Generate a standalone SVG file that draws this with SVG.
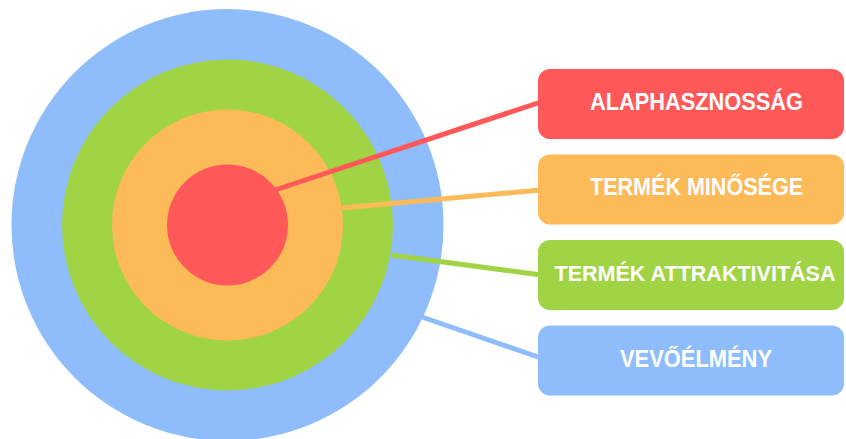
<svg xmlns="http://www.w3.org/2000/svg" width="846" height="439" viewBox="0 0 846 439">
<style>
.lbl{font-family:"Liberation Sans",Arial,sans-serif;font-weight:bold;font-size:24px;fill:#ffffff;text-anchor:middle}
.ln{stroke-width:5;stroke-linecap:butt;fill:none}
</style>
<rect width="846" height="439" fill="#ffffff"/>
<g id="target">
<circle cx="227.5" cy="225" r="216" fill="#8FBCFB"/>
<circle cx="227.5" cy="225" r="165.5" fill="#A0D445"/>
<circle cx="227.5" cy="225" r="115.5" fill="#FDBA58"/>
<circle cx="227.5" cy="225" r="60.5" fill="#FF5858"/>
</g>
<g id="connectors">
<line class="ln" x1="275" y1="190" x2="541" y2="102" stroke="#FF5858"/>
<line class="ln" x1="342" y1="208" x2="541" y2="190" stroke="#FDBA58"/>
<line class="ln" x1="391" y1="255" x2="541" y2="275" stroke="#A0D445"/>
<line class="ln" x1="422" y1="317" x2="541" y2="358" stroke="#8FBCFB"/>
</g>
<g id="node-alaphasznossag">
<rect x="538" y="69" width="306" height="70" rx="12" fill="#FF5858"/>
<text class="lbl" x="696.5" y="109.5" textLength="213" lengthAdjust="spacingAndGlyphs">ALAPHASZNOSSÁG</text>
</g>
<g id="node-termek-minosege">
<rect x="538" y="154.5" width="306" height="70" rx="12" fill="#FDBA58"/>
<text class="lbl" x="696.5" y="195" textLength="213" lengthAdjust="spacingAndGlyphs">TERMÉK MINŐSÉGE</text>
</g>
<g id="node-termek-attraktivitasa">
<rect x="538" y="240" width="306" height="70" rx="12" fill="#A0D445"/>
<text class="lbl" x="695" y="280.5" style="font-size:21.5px" textLength="281" lengthAdjust="spacingAndGlyphs">TERMÉK ATTRAKTIVITÁSA</text>
</g>
<g id="node-vevoelmeny">
<rect x="538" y="325.5" width="306" height="70" rx="12" fill="#8FBCFB"/>
<text class="lbl" x="696" y="366.5" textLength="152" lengthAdjust="spacingAndGlyphs">VEVŐÉLMÉNY</text>
</g>
</svg>
